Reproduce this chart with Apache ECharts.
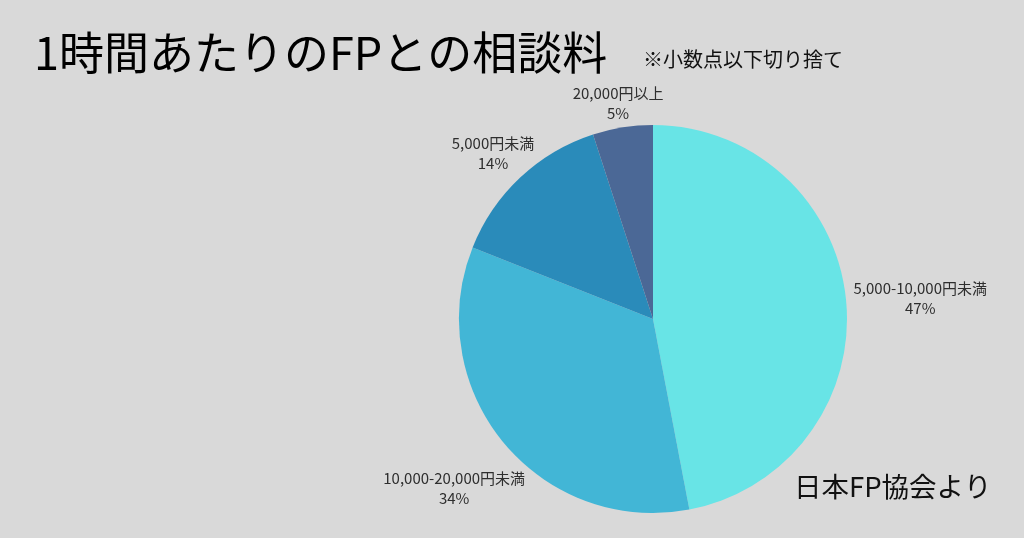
<!DOCTYPE html>
<html><head><meta charset="utf-8">
<script src="https://cdn.jsdelivr.net/npm/echarts@6/dist/echarts.min.js"></script>
<style>html,body{margin:0;padding:0;background:#d9d9d9}#c{width:1024px;height:538px}</style>
</head><body><div id="c"></div>
<script>
const categories = ['5,000-10,000円未満', '10,000-20,000円未満', '5,000円未満', '20,000円以上'];
const values = [47, 34, 14, 5];
const colors = ['#68E4E6', '#42B6D6', '#2A8BBA', '#4B6896'];

const CX = 653, CY = 319, R = 194, GAP = 8, DY = 5;
const total = values.reduce((a, b) => a + b, 0);
const midAngles = [];
(function () {
  let cum = 0;
  values.forEach(v => { midAngles.push(2 * Math.PI * (cum + v / 2) / total); cum += v; });
})();

const chart = echarts.init(document.getElementById('c'));
chart.setOption({
  backgroundColor: '#d9d9d9',
  animation: false,
  title: [
    {text: '1時間あたりのFPとの相談料', left: 29, top: 25,
     textStyle: {fontFamily: 'Noto Sans CJK JP', fontSize: 45, fontWeight: 'normal', color: '#000'}},
    {text: '※小数点以下切り捨て', left: 638, top: 44,
     textStyle: {fontFamily: 'Noto Sans CJK JP', fontSize: 20, fontWeight: 'normal', color: '#111'}},
    {text: '日本FP協会より', left: 789, top: 468,
     textStyle: {fontFamily: 'Noto Sans CJK JP', fontSize: 27.5, fontWeight: 'normal', color: '#111'}}
  ],
  series: [{
    type: 'pie',
    center: [CX, CY],
    radius: [0, R],
    startAngle: 90,
    clockwise: true,
    data: categories.map((c, i) => ({name: c, value: values[i], itemStyle: {color: colors[i]}})),
    label: {
      show: true, position: 'outside', overflow: 'none',
      formatter: '{b}\n{d}%',
      fontFamily: 'Noto Sans CJK JP', fontSize: 15, lineHeight: 20, color: '#2e2e2e', align: 'center'
    },
    labelLine: {show: false},
    labelLayout: function (p) {
      const th = midAngles[p.dataIndex];
      const ux = Math.sin(th), uy = -Math.cos(th);
      const w = p.labelRect.width / 2, h = p.labelRect.height / 2;
      const d = R + GAP + Math.sqrt((w * ux) * (w * ux) + (h * uy) * (h * uy));
      return {x: CX + ux * d, y: CY + uy * d + DY, align: 'center', verticalAlign: 'middle'};
    },
    emphasis: {disabled: true}
  }]
});
</script></body></html>
